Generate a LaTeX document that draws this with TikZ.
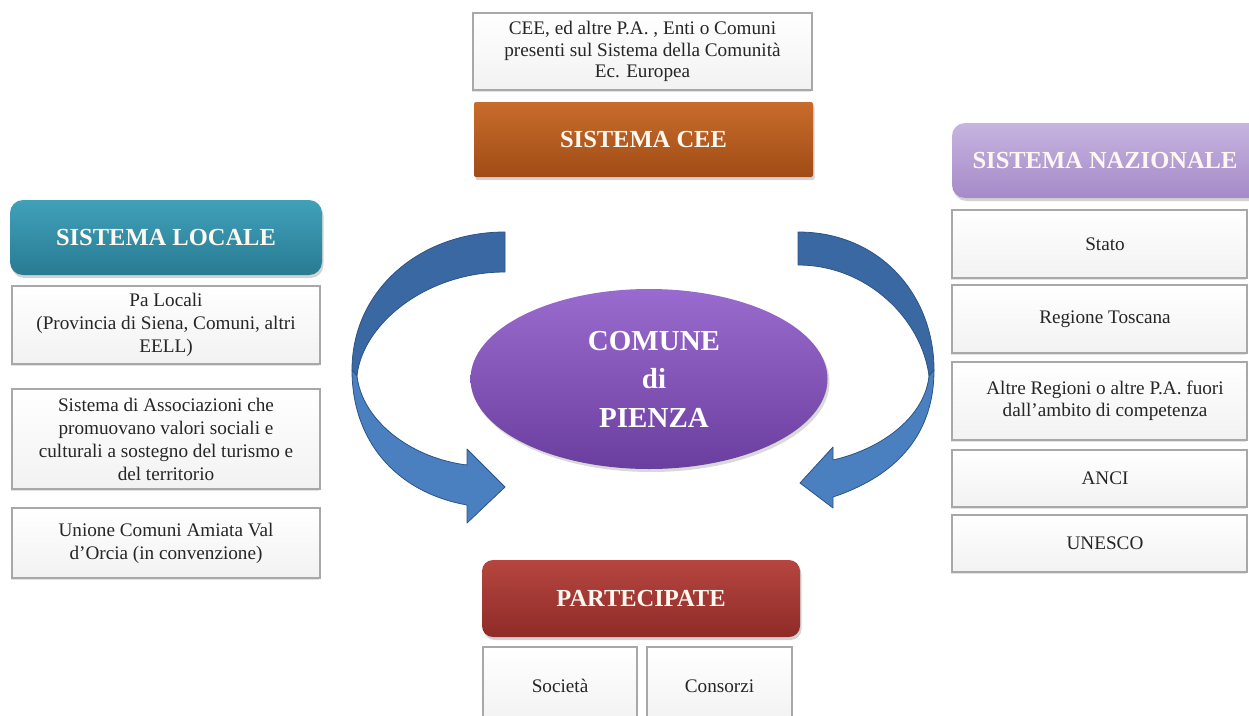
\documentclass[tikz,border=0pt]{standalone}
\usepackage{fontspec}
\setmainfont{Liberation Serif}
\usetikzlibrary{shapes.geometric,shadows}
\definecolor{txtgray}{HTML}{262626}
\definecolor{boxborder}{HTML}{A8A8A8}
\definecolor{boxbottom}{HTML}{F2F2F2}
\definecolor{hdrtext}{HTML}{FFF8F0}
\definecolor{ceeTop}{HTML}{C86C2C}
\definecolor{ceeBot}{HTML}{A04C16}
\definecolor{locTop}{HTML}{40A1B9}
\definecolor{locBot}{HTML}{287B93}
\definecolor{nazTop}{HTML}{C7B4E0}
\definecolor{nazBot}{HTML}{A58AC8}
\definecolor{parTop}{HTML}{B6463F}
\definecolor{parBot}{HTML}{8E2B28}
\definecolor{ellTop}{HTML}{9A6BCE}
\definecolor{ellBot}{HTML}{6A3E9E}
\definecolor{arrowdark}{HTML}{3A68A2}
\definecolor{arrowlight}{HTML}{4A80C0}
\definecolor{arrowedge}{HTML}{2C5386}
\begin{document}
\begin{tikzpicture}[x=1pt,y=-1pt,
  txtbox/.style={draw=boxborder, line width=1.3pt, top color=white, bottom color=boxbottom,
    drop shadow={opacity=0.22,shadow xshift=-1.5pt,shadow yshift=-2pt},
    align=center, inner sep=2pt, text=txtgray, font=\fontsize{19.2}{23}\selectfont},
  hdr/.style={align=center, text=hdrtext, inner sep=0pt,
    font=\bfseries\fontsize{24.5}{28}\selectfont,
    drop shadow={opacity=0.35,shadow xshift=1.5pt,shadow yshift=-3pt}},
  arrowpart/.style={draw=arrowedge, line width=0.8pt, line join=round}
]
\useasboundingbox (0,0) rectangle (1249,715);

% curved arrows
\path[arrowpart, fill=arrowdark] (505,232) .. controls (420,232) and (352,290) .. (352,370)
  -- (357,376) .. controls (362,325) and (425,272) .. (505,272) -- cycle;
\path[arrowpart, fill=arrowlight] (352,370) .. controls (352,440) and (395,492) .. (467,505)
  -- (467,523) -- (505,487) -- (467,449) -- (467,465)
  .. controls (410,458) and (362,420) .. (357,376) -- cycle;

\path[arrowpart, fill=arrowdark] (798,232) .. controls (880,232) and (934,295) .. (934,370)
  -- (929,376) .. controls (922,320) and (868,265) .. (798,265) -- cycle;
\path[arrowpart, fill=arrowlight] (934,370) .. controls (934,440) and (890,478) .. (833,497)
  -- (833,508) -- (800,483) -- (833,447) -- (833,460)
  .. controls (885,448) and (925,415) .. (929,376) -- cycle;

% centre
\node[ellipse, minimum width=357pt, minimum height=180pt, inner sep=0pt,
  top color=ellTop, bottom color=ellBot,
  drop shadow={opacity=0.3,shadow xshift=2pt,shadow yshift=-3pt},
  text=white, align=center, font=\bfseries\fontsize{29}{38.5}\selectfont]
  (comune) at (649,379) {\hspace*{10pt}COMUNE\\\hspace*{10pt}di\\\hspace*{10pt}PIENZA};

% Sistema CEE
\node[txtbox, minimum width=339pt, minimum height=77pt, font=\fontsize{19.2}{21.5}\selectfont]
  (ceetxt) at (642.5,51.5) {CEE, ed altre P.A. , Enti o Comuni\\presenti sul Sistema della Comunità\\Ec. Europea};
\node[hdr, minimum width=339pt, minimum height=75pt, rounded corners=2pt,
  top color=ceeTop, bottom color=ceeBot] (ceehdr) at (643.5,139.5) {SISTEMA CEE};

% Sistema locale
\node[hdr, minimum width=312pt, minimum height=75pt, rounded corners=13pt,
  top color=locTop, bottom color=locBot] (lochdr) at (166,237.5) {SISTEMA LOCALE};
\node[txtbox, minimum width=308pt, minimum height=78pt] (loca) at (166,325)
  {Pa Locali\\(Provincia di Siena, Comuni, altri\\EELL)};
\node[txtbox, minimum width=308pt, minimum height=100pt] (locb) at (166,439)
  {Sistema di Associazioni che\\promuovano valori sociali e\\culturali a sostegno del turismo e\\del territorio};
\node[txtbox, minimum width=308pt, minimum height=70pt] (locc) at (166,543)
  {Unione Comuni Amiata Val\\d'Orcia (in convenzione)};

% Sistema nazionale
\node[hdr, minimum width=310pt, minimum height=75pt, rounded corners=13pt,
  top color=nazTop, bottom color=nazBot] (nazhdr) at (1107,160.5) {SISTEMA NAZIONALE\hspace*{4pt}};
\node[txtbox, minimum width=295pt, minimum height=68pt] (stato) at (1099.5,244) {\hspace*{11pt}Stato};
\node[txtbox, minimum width=295pt, minimum height=68pt] (regione) at (1099.5,319) {\hspace*{11pt}Regione Toscana};
\node[txtbox, minimum width=295pt, minimum height=78pt, font=\fontsize{19.2}{21.5}\selectfont] (altre) at (1099.5,401)
  {\hspace*{11pt}Altre Regioni o altre P.A. fuori\\\hspace*{11pt}dall'ambito di competenza};
\node[txtbox, minimum width=295pt, minimum height=57pt] (anci) at (1099.5,478.5) {\hspace*{11pt}ANCI};
\node[txtbox, minimum width=295pt, minimum height=57pt] (unesco) at (1099.5,543.5) {\hspace*{11pt}UNESCO};

% Partecipate
\node[hdr, minimum width=318pt, minimum height=77pt, rounded corners=11pt,
  top color=parTop, bottom color=parBot] (parhdr) at (641,598.5) {PARTECIPATE};
\node[txtbox, minimum width=154pt, minimum height=78pt] (societa) at (560,686) {Società};
\node[txtbox, minimum width=145pt, minimum height=78pt] (consorzi) at (719.5,686) {Consorzi};
\end{tikzpicture}
\end{document}
